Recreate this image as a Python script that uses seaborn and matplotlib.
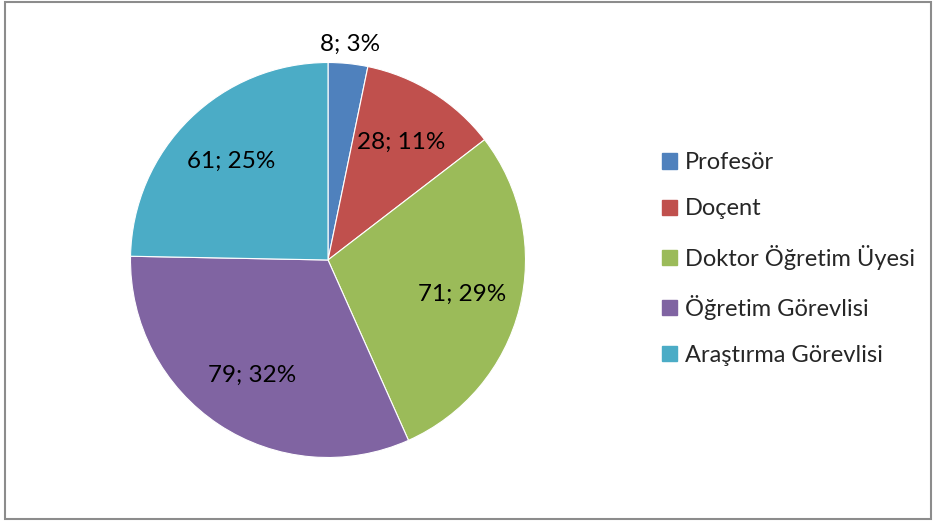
import matplotlib
matplotlib.use("Agg")
import matplotlib.pyplot as plt
import seaborn as sns
import numpy as np
from matplotlib.patches import Rectangle

categories = ["Profesör", "Doçent", "Doktor Öğretim Üyesi", "Öğretim Görevlisi", "Araştırma Görevlisi"]
counts = [8, 28, 71, 79, 61]
percents = [3, 11, 29, 32, 25]
colors = ["#4F81BD", "#C0504D", "#9BBB59", "#8064A2", "#4BACC6"]

sns.set_theme(style="white")
plt.rcParams["font.family"] = ["Lato", "DejaVu Sans"]

W, H = 936, 521
fig = plt.figure(figsize=(W / 100, H / 100), dpi=100)

# pie axes: centre at (328, 260) px, radius ~197 px
cx, cy, r = 328, 260, 197.5
ax = fig.add_axes([(cx - r) / W, (H - cy - r) / H, 2 * r / W, 2 * r / H])
wedges, _ = ax.pie(
    counts,
    colors=sns.color_palette(colors),
    startangle=90,
    counterclock=False,
    radius=1,
    wedgeprops=dict(edgecolor="white", linewidth=0.8),
)
ax.set_xlim(-1, 1)
ax.set_ylim(-1, 1)
ax.axis("off")

# data labels "count; pct%"
total = sum(counts)
start = 90.0
for i, (c, p) in enumerate(zip(counts, percents)):
    span = 360.0 * c / total
    mid = np.deg2rad(start - span / 2)
    start -= span
    dist = 1.1 if i == 0 else 0.7
    x, y = dist * np.cos(mid), dist * np.sin(mid)
    ax.text(x, y, f"{c}; {p}%", ha="center", va="center", fontsize=17.5, color="black")

# legend
handles = [Rectangle((0, 0), 1, 1, color=col) for col in colors]
fig.legend(
    handles,
    categories,
    loc="center left",
    bbox_to_anchor=(641 / W, 1 - 259 / H),
    frameon=False,
    fontsize=17,
    handlelength=0.62,
    handleheight=0.62,
    handletextpad=0.35,
    labelspacing=1.06,
)

# outer frame
fig.patches.append(Rectangle((5 / W, 2 / H), 926 / W, 517 / H, transform=fig.transFigure,
                             fill=False, edgecolor="#8c8c8c", linewidth=1.5))

fig.savefig("out.png", dpi=100)
